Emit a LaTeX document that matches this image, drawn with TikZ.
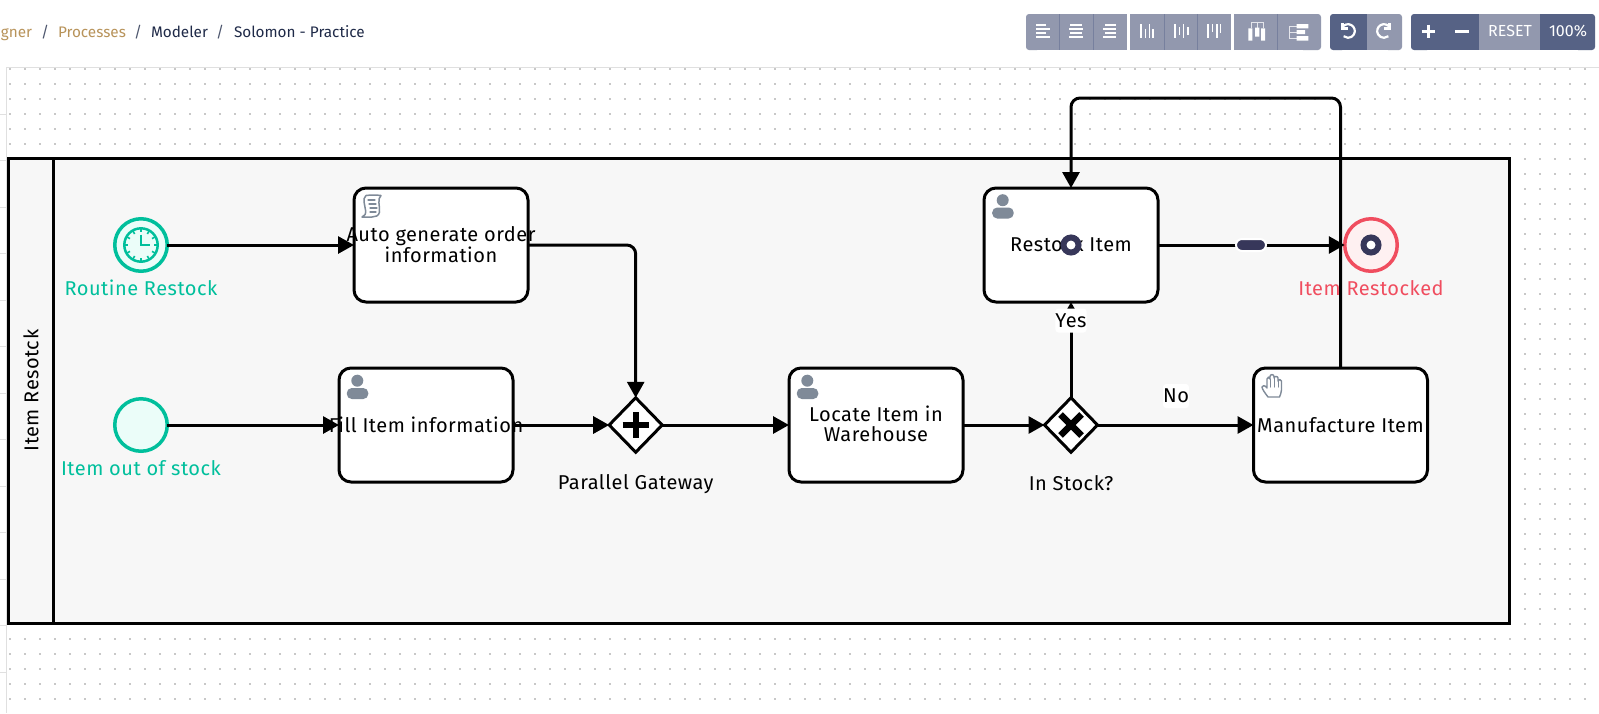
\documentclass[tikz,border=0pt]{standalone}
\usepackage{fontspec}
\setmainfont{Fira Sans}
\newfontfamily\diagfont[LetterSpace=2.5]{Fira Sans}
\usetikzlibrary{arrows.meta,shapes.geometric}
\definecolor{gridc}{HTML}{C8C8C8}
\definecolor{rulec}{HTML}{E0E0E0}
\definecolor{poolc}{HTML}{F7F7F7}
\definecolor{startc}{HTML}{00BF9C}
\definecolor{startf}{HTML}{EBFDF9}
\definecolor{endc}{HTML}{F04D5F}
\definecolor{endf}{HTML}{FEF0F1}
\definecolor{handlec}{HTML}{37375A}
\definecolor{iconc}{HTML}{7F8A98}
\definecolor{btnl}{HTML}{9298AE}
\definecolor{btnd}{HTML}{566285}
\definecolor{btns}{HTML}{77809E}
\definecolor{crumbg}{HTML}{B8935A}
\definecolor{crumbd}{HTML}{1F2A48}
\tikzset{
  x=1pt,y=-1pt,
  every node/.style={inner sep=0pt,outer sep=0pt},
  task/.style={draw=black,fill=white,line width=3pt,rounded corners=12pt,minimum width=174pt,minimum height=114pt},
  gate/.style={diamond,draw=black,fill=white,line width=3pt,aspect=1,minimum width=53pt,minimum height=54.5pt},
  startev/.style={circle,draw=startc,fill=startf,line width=3.5pt,minimum size=52.5pt},
  endev/.style={circle,draw=endc,fill=endf,line width=3.5pt,minimum size=52.5pt},
  flow/.style={draw=black,line width=3pt,-{Triangle[length=16pt,width=17pt]}},
  bentflow/.style={flow,rounded corners=9pt},
  txt/.style={font=\diagfont\fontsize{20}{20.6}\selectfont,align=center,text=black},
  crumb/.style={font=\fontsize{15.3}{18}\selectfont,anchor=base},
  tag/.style={txt,fill=white,rounded corners=3pt,minimum width=25pt,minimum height=24pt},
  iconl/.style={draw=white,line width=1.6pt},
  userfill/.style={fill=iconc,draw=none},
  iconline/.style={draw=iconc,line width=1.4pt,line join=round,line cap=round},
  user/.pic={
    \fill[userfill] (18.7,12.7) circle (6);
    \fill[userfill,rounded corners=5pt] (8.2,31) -- (8.2,20) -- (29.7,20) -- (29.7,31) -- cycle;
  }
}
\begin{document}
\begin{tikzpicture}
\useasboundingbox (0,0) rectangle (1599,713);
\fill[white] (0,0) rectangle (1599,713);
% canvas dots
\foreach \yy in {69,84,...,699}
  \draw[gridc,line width=1.5pt,dash pattern=on 1.5pt off 13.5pt,dash phase=0pt] (9.25,\yy) -- (1599,\yy);
% ruler
\draw[rulec,line width=1pt] (6.5,713) -- (6.5,67.5) -- (1599,67.5);
\foreach \yy in {114,160,207,253,300,346,393,439,486,532,579,625,672}
  \draw[rulec,line width=1pt] (0,\yy) -- (6.5,\yy);
% breadcrumb
\node[crumb,anchor=base east,text=crumbg] (cr1) at (32,37) {gner};
\node[crumb,text=crumbd!80] (s1) at (45,37) {/};
\node[crumb,anchor=base west,text=crumbg] (cr2) at (58,37) {Processes};
\node[crumb,text=crumbd!80] (s2) at (138,37) {/};
\node[crumb,anchor=base west,text=crumbd] (cr3) at (151,37) {Modeler};
\node[crumb,text=crumbd!80] (s3) at (220,37) {/};
\node[crumb,anchor=base west,text=crumbd] (cr4) at (234,37) {Solomon - Practice};
% toolbar backgrounds
\fill[btnl,rounded corners=3pt] (1026,14) -- (1026,50) -- (1040,50) -- (1040,14) -- cycle;
\fill[btnl] (1032,14) rectangle (1127,50);
\fill[btnl] (1130,14) rectangle (1231,50);
\fill[btnl] (1234,14) rectangle (1310,50);
\fill[btnl,rounded corners=3pt] (1300,14) -- (1321,14) -- (1321,50) -- (1300,50) -- cycle;
\foreach \xx in {1059.5,1093,1164,1197.5,1277.5}
  \draw[btns,line width=1pt] (\xx,14) -- (\xx,50);
\fill[btnd,rounded corners=3pt] (1330,14) -- (1345,14) -- (1345,50) -- (1330,50) -- cycle;
\fill[btnd] (1338,14) rectangle (1367,50);
\fill[btnl] (1367,14) rectangle (1392,50);
\fill[btnl,rounded corners=3pt] (1385,14) -- (1402,14) -- (1402,50) -- (1385,50) -- cycle;
\fill[btnd,rounded corners=3pt] (1411,14) -- (1430,14) -- (1430,50) -- (1411,50) -- cycle;
\fill[btnd] (1420,14) rectangle (1479,50);
\fill[btnl] (1479,14) rectangle (1540,50);
\fill[btnd] (1540,14) rectangle (1585,50);
\fill[btnd,rounded corners=3pt] (1575,14) -- (1595,14) -- (1595,50) -- (1575,50) -- cycle;
% align icons
\foreach \yy/\xa/\xb in {25/1036/1046,29/1036/1050,33/1036/1046,37/1036/1050,
  25/1070/1082,29/1069/1083,33/1070/1082,37/1069/1083,
  25/1105/1116,29/1103/1116,33/1105/1116,37/1103/1116}
  \draw[iconl] (\xa,\yy) -- (\xb,\yy);
% distribute icons
\foreach \xx/\ya/\yb in {1140.7/24/38,1145.3/28.5/38,1149.3/24/38,1153/29/38,
  1175/24/38,1179.3/27/35,1183.5/24/38,1187.7/27/35,
  1208/24/38,1212.5/24/32,1216.7/24/38,1220.5/24/33}
  \draw[iconl] (\xx,\ya) -- (\xx,\yb);
% tree icons
\draw[white!75!btnl,line width=1pt] (1251,28) -- (1251,22.5) -- (1263,22.5) -- (1263,28) (1257,22.5) -- (1257,28);
\fill[white] (1248.3,28.3) rectangle (1252.3,40.7) (1255,27.7) rectangle (1259.3,36.7) (1261,28.3) rectangle (1265,40.7);
\draw[white!75!btnl,line width=1pt] (1296.7,26) -- (1289.5,26) -- (1289.5,38.5) -- (1296.7,38.5) (1289.5,32) -- (1296.7,32);
\fill[white] (1296.7,24) rectangle (1308.3,28.3) (1296.7,30) rectangle (1305,34) (1296.7,36) rectangle (1308.3,40.7);
% undo redo
\draw[white,line width=2.2pt] (1348,31) ++(-150:6.8) arc (-150:130:6.8);
\draw[white,line width=2.2pt] (1342.5,23) -- (1342.5,28.5) -- (1348,28.5);
\draw[white,line width=2.2pt] (1384,31) ++(-30:6.8) arc (-30:-310:6.8);
\draw[white,line width=2.2pt] (1389.5,23) -- (1389.5,28.5) -- (1384,28.5);
% zoom controls
\draw[white,line width=3pt] (1421.5,31) -- (1434.5,31) (1428,24.5) -- (1428,37.5);
\draw[white,line width=3pt] (1455,31) -- (1468.5,31);
\node[text=white,font=\fontsize{16}{18}\selectfont] (reset) at (1510,31) {RESET};
\node[text=white,font=\fontsize{16}{18}\selectfont] (pct) at (1568,31) {100\%};
% pool
\node[draw=black,fill=poolc,line width=3pt,minimum width=1500.2pt,minimum height=465pt] (pool) at (758.9,391) {};
\draw[black,line width=3pt] (53.8,158.5) -- (53.8,623.5);
\node[txt,rotate=90] (lane) at (31,390.5) {Item Resotck};
% tasks
\node[task] (t1) at (441,245) {};
\node[task] (t2) at (426,425) {};
\node[task] (t3) at (876,425) {};
\node[task] (t4) at (1340.5,425) {};
\node[task] (t5) at (1071,245) {};
% events and gateways
\node[startev] (e1) at (141,245) {};
\node[startev] (e2) at (141,425) {};
\node[endev] (e3) at (1371,245) {};
\node[gate] (g1) at (635.7,425) {};
\node[gate] (g2) at (1071,425) {};
\draw[black,line width=6pt] (622.7,425) -- (648.7,425) (635.7,412) -- (635.7,438);
\draw[black,line width=6.5pt] (1060.5,414.5) -- (1081.5,435.5) (1060.5,435.5) -- (1081.5,414.5);
% clock
\draw[startc,line width=2.5pt] (141,245) circle (16.7);
\foreach \aa in {0,30,...,330}
  \draw[startc,line width=1.6pt] (141,245) ++(\aa:16.5) -- ++(\aa:-3.8);
\draw[startc,line width=2pt] (141,234.5) -- (141,245) -- (150,245);
% icons in tasks
\pic at (338.6,368) {user};
\pic at (788.6,368) {user};
\pic at (984,187.5) {user};
\draw[iconline,line width=1.5pt] (366,195.5) .. controls (368,195) and (379,195) .. (381,195.5)
  .. controls (377,199) and (380,206) .. (379.5,212) .. controls (379,216) and (375,217) .. (372,217)
  -- (362,217) .. controls (365,216) and (366,214) .. (365.5,210)
  .. controls (365,205) and (362,199) .. (366,195.5) -- cycle;
\draw[iconline,line width=1.3pt] (368,200) -- (375,200) (369,204) -- (376,204) (370,208) -- (377,208) (370,212) -- (376,212);
\draw[iconline] (1268,397) .. controls (1265,393) and (1262,389) .. (1262,387)
  .. controls (1262,385) and (1265,385) .. (1267,388) -- (1267,379)
  .. controls (1267,376.5) and (1270,376.5) .. (1270,379) -- (1270,376.5)
  .. controls (1270,374) and (1274,374) .. (1274,376.5) -- (1274,378)
  .. controls (1274,376) and (1278,376) .. (1278,378) -- (1278,381)
  .. controls (1278,379) and (1281.5,379) .. (1281.5,381) -- (1281.5,390)
  .. controls (1281.5,393) and (1280,395) .. (1279.5,397) -- cycle;
\draw[iconline,line width=1pt] (1270,379) -- (1270,387) (1274,378) -- (1274,387) (1278,381) -- (1278,387);
% connectors
\coordinate (loop) at (1200,98);
\draw[flow] (e1) -- (t1);
\draw[flow] (e2) -- (t2);
\draw[flow] (t2) -- (g1);
\draw[bentflow] (t1.east) -| (g1.north);
\draw[flow] (g1) -- (t3);
\draw[flow] (t3) -- (g2);
\draw[flow] (g2) -- (t4);
\draw[flow] (g2) -- (t5);
\draw[flow] (t5) -- (e3);
\draw[bentflow] (t4.north) |- (loop) -| (t5.north);
% connector labels
\node[tag] (yes) at (1071,320.5) {Yes};
\node[tag] (no) at (1176,396) {No};
% texts
\node[txt] (l1) at (441,244.5) {Auto generate order\\information};
\node[txt] (l2) at (426,425) {Fill Item information};
\node[txt] (l3) at (876,424) {Locate Item in\\Warehouse};
\node[txt] (l4) at (1340.5,425) {Manufacture Item};
\node[txt] (l5) at (1071,244) {Restock Item};
\node[txt,text=startc] (l6) at (141,288) {Routine Restock};
\node[txt,text=startc] (l7) at (141,468) {Item out of stock};
\node[txt] (l8) at (635.7,484) {Parallel Gateway};
\node[txt] (l9) at (1071,483) {In Stock?};
\node[txt,text=endc] (l10) at (1371,288) {Item Restocked};
% end marker, handle, pill
\node[circle,draw=handlec,fill=white,line width=6pt,minimum size=15pt] (m1) at (1371,245) {};
\node[circle,draw=handlec,fill=white,line width=6pt,minimum size=15pt] (m2) at (1071,245) {};
\node[draw=white,fill=handlec,line width=2pt,rounded corners=6pt,minimum width=30pt,minimum height=12pt] (pill) at (1251,245) {};
\end{tikzpicture}
\end{document}
